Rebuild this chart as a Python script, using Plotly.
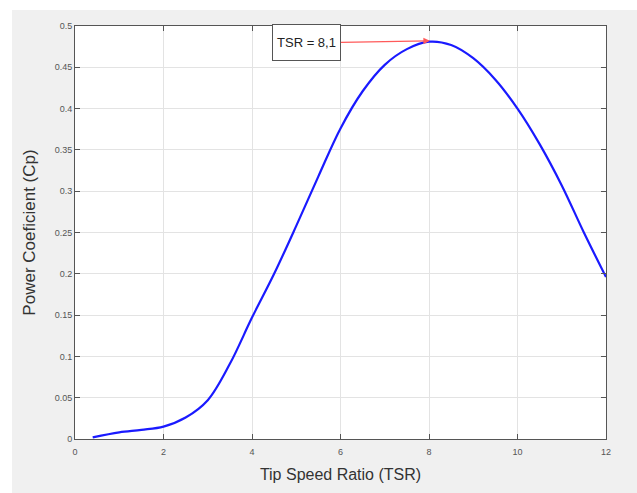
import plotly.graph_objects as go

tsr = [0.4, 1, 1.5, 2, 2.5, 3, 3.5, 4, 4.5, 5, 5.5, 6, 6.5, 7, 7.5, 8, 8.5, 9, 9.5, 10, 10.5, 11, 11.5, 12]
cp = [0.002, 0.008, 0.011, 0.015, 0.026, 0.047, 0.091, 0.147, 0.200, 0.258, 0.318, 0.376, 0.421, 0.453,
      0.472, 0.481, 0.477, 0.461, 0.435, 0.400, 0.357, 0.307, 0.250, 0.196]
x_ticks = [0, 2, 4, 6, 8, 10, 12]
y_ticks = [0, 0.05, 0.1, 0.15, 0.2, 0.25, 0.3, 0.35, 0.4, 0.45, 0.5]
y_tick_text = ["0", "0.05", "0.1", "0.15", "0.2", "0.25", "0.3", "0.35", "0.4", "0.45", "0.5"]
peak_x, peak_y = 8.02, 0.482
peak_label = "TSR = 8,1"

fig = go.Figure()
fig.add_trace(go.Scatter(x=tsr, y=cp, mode="lines",
                         line=dict(color="#1a1aff", width=2.2, shape="spline", smoothing=1.0),
                         showlegend=False, hoverinfo="skip"))

axis_common = dict(showline=True, mirror="ticks", linecolor="#555555", linewidth=1,
                   ticks="inside", ticklen=5, tickcolor="#555555", automargin=False,
                   showgrid=True, gridcolor="#e3e3e3", gridwidth=1, zeroline=False,
                   tickfont=dict(family="Liberation Sans, Arial", size=9, color="#555555"))

fig.update_xaxes(range=[0, 12], tickvals=x_ticks, ticklabelstandoff=4,
                 title=dict(text="Tip Speed Ratio (TSR)", standoff=13,
                            font=dict(family="Liberation Sans, Arial", size=16, color="#333333")),
                 **axis_common)
fig.update_yaxes(range=[0, 0.5], tickvals=y_ticks, ticktext=y_tick_text,
                 title=dict(text="Power Coeficient (Cp)", standoff=14,
                            font=dict(family="Liberation Sans, Arial", size=17, color="#333333")),
                 **axis_common)

fig.add_annotation(x=peak_x, y=peak_y, xref="x", yref="y", text=peak_label,
                   showarrow=True, arrowhead=2, arrowsize=1, arrowwidth=1.3, arrowcolor="#ff5a5a",
                   ax=-123, ay=2, width=63, height=31, bgcolor="white", bordercolor="#555555",
                   borderwidth=1, borderpad=2,
                   font=dict(family="Liberation Sans, Arial", size=13, color="#222222"))

# white strips at the top and left of the grey figure background
fig.add_shape(type="rect", xref="paper", yref="paper", x0=-0.2, x1=1.2, y0=1.0387, y1=1.1,
              fillcolor="white", line_width=0, layer="below")
fig.add_shape(type="rect", xref="paper", yref="paper", x0=-0.2, x1=-0.1186, y0=-0.2, y1=1.1,
              fillcolor="white", line_width=0, layer="below")

fig.update_layout(width=637, height=493, margin=dict(l=75, r=31, t=26, b=54, autoexpand=False),
                  paper_bgcolor="#f0f0f0", plot_bgcolor="white")

fig.write_html("out.html", config={"displayModeBar": False},
               post_script="document.body.style.margin='0';document.body.style.padding='0';")
